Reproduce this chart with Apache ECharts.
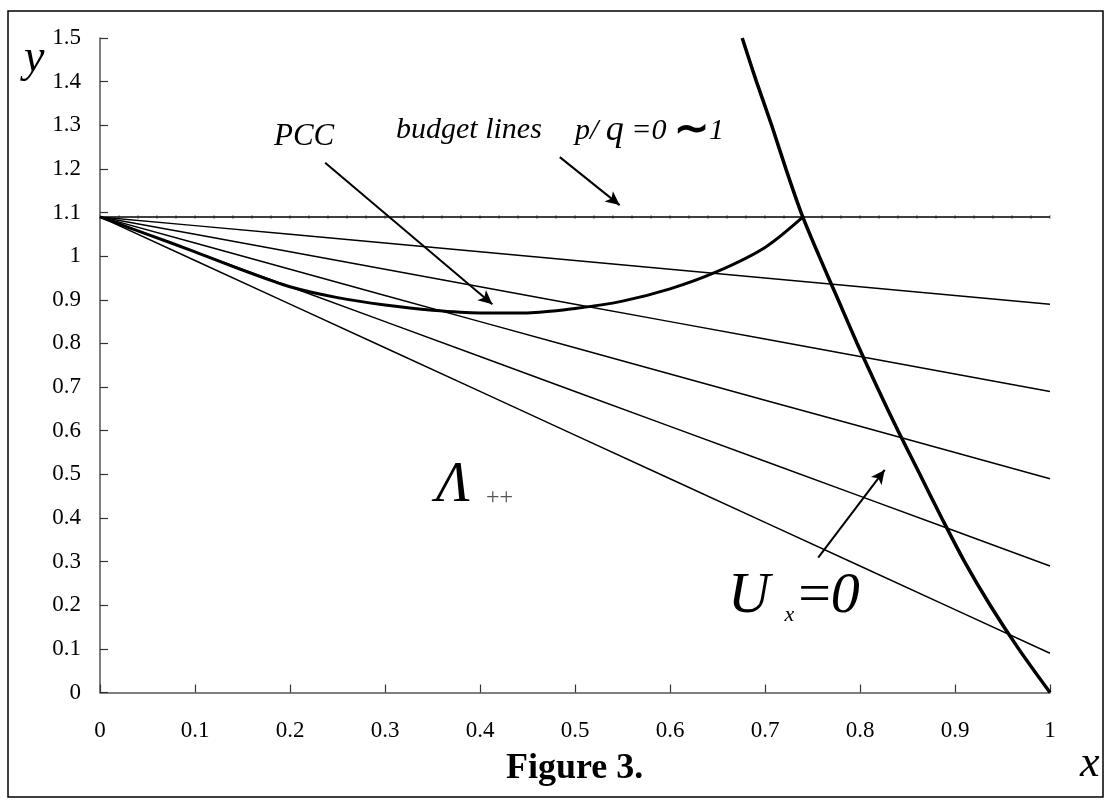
<!DOCTYPE html>
<html>
<head>
<meta charset="utf-8">
<script src="https://cdn.jsdelivr.net/npm/echarts@6/dist/echarts.min.js"></script>
<style>
html,body{margin:0;padding:0;background:#fff;}
#chart{width:1110px;height:800px;}
</style>
</head>
<body>
<div id="chart"></div>
<script>
// ---- data ----
var xTicks = [0, 0.1, 0.2, 0.3, 0.4, 0.5, 0.6, 0.7, 0.8, 0.9, 1];
var budgetX = [0, 0.1, 0.2, 0.3, 0.4, 0.5, 0.6, 0.7, 0.8, 0.9, 1];
var budget0 = [1.09, 1.09, 1.09, 1.09, 1.09, 1.09, 1.09, 1.09, 1.09, 1.09, 1.09];
var budget1 = [1.09, 1.07, 1.05, 1.03, 1.01, 0.99, 0.97, 0.95, 0.93, 0.91, 0.89];
var budget2 = [1.09, 1.05, 1.01, 0.97, 0.93, 0.89, 0.85, 0.81, 0.77, 0.73, 0.69];
var budget3 = [1.09, 1.03, 0.97, 0.91, 0.85, 0.79, 0.73, 0.67, 0.61, 0.55, 0.49];
var budget4 = [1.09, 1.01, 0.93, 0.85, 0.77, 0.69, 0.61, 0.53, 0.45, 0.37, 0.29];
var budget5 = [1.09, 0.99, 0.89, 0.79, 0.69, 0.59, 0.49, 0.39, 0.29, 0.19, 0.09];
// sample points visible as tiny ticks on the horizontal (p/q = 0) budget line
var flatSampleX = [0, 0.02, 0.04, 0.06, 0.08, 0.1, 0.12, 0.14, 0.16, 0.18, 0.2, 0.22, 0.24, 0.26, 0.28, 0.3,
  0.32, 0.34, 0.36, 0.38, 0.4, 0.42, 0.44, 0.46, 0.48, 0.5, 0.52, 0.54, 0.56, 0.58, 0.6, 0.62, 0.64, 0.66,
  0.68, 0.7, 0.72, 0.74, 0.76, 0.78, 0.8, 0.82, 0.84, 0.86, 0.88, 0.9, 0.92, 0.94, 0.96, 0.98, 1];
var flatLevel = 1.09;
var pccX = [0, 0.05, 0.1, 0.15, 0.2, 0.25, 0.3, 0.35, 0.4, 0.45, 0.5, 0.55, 0.6, 0.65, 0.7, 0.74];
var pccY = [1.09, 1.05, 1.01, 0.968, 0.93, 0.905, 0.888, 0.876, 0.87, 0.87, 0.88, 0.897, 0.925, 0.965, 1.02, 1.09];
var uxX = [0.676, 0.691, 0.707, 0.722, 0.738, 0.757, 0.777, 0.797, 0.818, 0.84, 0.863, 0.886, 0.91, 0.937, 0.967, 1.0];
var uxY = [1.5, 1.4, 1.3, 1.2, 1.1, 1.0, 0.9, 0.8, 0.7, 0.6, 0.5, 0.4, 0.3, 0.2, 0.1, 0];
// arrows: [from, to] in data units
var arrowPCC = [[0.237, 1.214], [0.413, 0.89]];
var arrowBudget = [[0.484, 1.227], [0.547, 1.117]];
var arrowUx = [[0.756, 0.309], [0.826, 0.51]];

function pairs(xs, ys) { return xs.map(function (x, i) { return [x, ys[i]]; }); }

var chart = echarts.init(document.getElementById('chart'), null, {renderer: 'canvas'});
var serif = 'Liberation Serif, Times New Roman, serif';
var budgets = [budget0, budget1, budget2, budget3, budget4, budget5];
var series = budgets.map(function (b) {
  return {
    type: 'line', data: pairs(budgetX, b), showSymbol: false, silent: true,
    lineStyle: {color: '#000', width: 1.5}
  };
});
series.push({
  type: 'scatter', silent: true,
  data: flatSampleX.map(function (x) { return [x, flatLevel]; }),
  symbol: 'rect', symbolSize: [1, 4],
  itemStyle: {color: '#666'}
});
series.push({
  type: 'line', data: pairs(pccX, pccY), showSymbol: false, smooth: 0.3, silent: true,
  lineStyle: {color: '#000', width: 3}
});
series.push({
  type: 'line', data: pairs(uxX, uxY), showSymbol: false, smooth: 0.3, silent: true,
  lineStyle: {color: '#000', width: 3.5}
});
function arrowLine(a) {
  return [{coord: a[0], symbol: 'none'}, {coord: a[1], symbol: 'arrow'}];
}
series.push({
  type: 'line', data: [], silent: true,
  markLine: {
    silent: true, animation: false,
    symbolSize: [10, 14],
    label: {show: false},
    lineStyle: {color: '#000', width: 2, type: 'solid'},
    data: [arrowLine(arrowPCC), arrowLine(arrowBudget), arrowLine(arrowUx)]
  }
});

chart.setOption({
  animation: false,
  backgroundColor: '#fff',
  grid: {left: 100, right: 60, top: 38, bottom: 107.5, containLabel: false},
  xAxis: {
    type: 'value', min: 0, max: 1, interval: 0.1,
    axisLine: {lineStyle: {color: '#555', width: 1.5}},
    axisTick: {inside: true, length: 8, lineStyle: {color: '#333', width: 1.2}},
    axisLabel: {fontFamily: serif, fontSize: 23, color: '#000', margin: 27},
    splitLine: {show: false}
  },
  yAxis: {
    type: 'value', min: 0, max: 1.5, interval: 0.1,
    axisLine: {show: true, lineStyle: {color: '#555', width: 1.5}},
    axisTick: {show: true, inside: true, length: 8, lineStyle: {color: '#333', width: 1.2}},
    axisLabel: {fontFamily: serif, fontSize: 23, color: '#000', margin: 19},
    splitLine: {show: false}
  },
  series: series,
  graphic: [
    {type: 'rect', shape: {x: 8, y: 11, width: 1095, height: 786}, style: {fill: 'none', stroke: '#000', lineWidth: 1.5}, silent: true, z: 100},
    {type: 'text', left: 24, top: 36, style: {text: 'y', font: 'italic 46px ' + serif, fill: '#000'}},
    {type: 'text', left: 1080, top: 742, style: {text: 'x', font: 'italic 44px ' + serif, fill: '#000'}},
    {type: 'text', left: 506, top: 751, style: {text: 'Figure 3.', font: 'bold 36px ' + serif, fill: '#000'}},
    {type: 'text', left: 274, top: 121, style: {text: 'PCC', font: 'italic 31px ' + serif, fill: '#000'}},
    {type: 'text', left: 396, top: 115, style: {text: 'budget lines', font: 'italic 30px ' + serif, fill: '#000'}},
    {type: 'text', left: 575, top: 110, style: {
      text: '{a|p/ }{b|q}{a| =0 }{c|∼}{a|1}',
      rich: {
        a: {fontFamily: serif, fontStyle: 'italic', fontSize: 30, color: '#000'},
        b: {fontFamily: serif, fontStyle: 'italic', fontSize: 36, color: '#000'},
        c: {fontFamily: serif, fontWeight: 'bold', fontSize: 42, color: '#000'}
      }
    }},
    {type: 'text', left: 436, top: 458, style: {text: 'Λ', font: 'italic 56px ' + serif, fill: '#000'}},
    {type: 'text', left: 486, top: 486, style: {text: '++', font: '24px ' + serif, fill: '#555'}},
    {type: 'text', left: 728, top: 568, style: {
      text: '{u|U }{s|x}{e|=}{u|0}',
      rich: {
        u: {fontFamily: serif, fontStyle: 'italic', fontSize: 58, color: '#000'},
        s: {fontFamily: serif, fontStyle: 'italic', fontSize: 22, color: '#000', verticalAlign: 'bottom', padding: [24, 4, 0, 0]},
        e: {fontFamily: serif, fontSize: 58, color: '#000'}
      }
    }}
  ]
});
</script>
</body>
</html>
